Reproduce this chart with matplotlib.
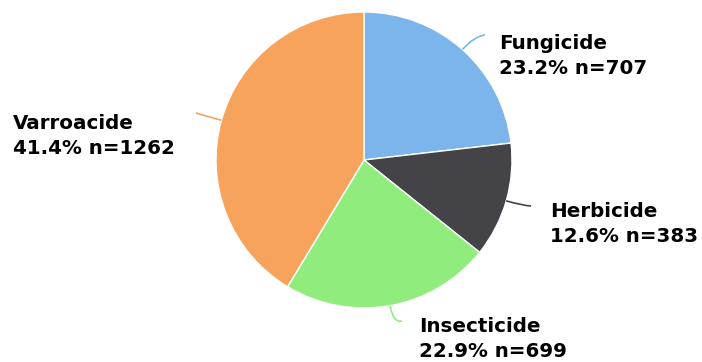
import numpy as np
import matplotlib.pyplot as plt
from matplotlib.path import Path
from matplotlib.patches import PathPatch

# Pesticide classes and sample counts
categories = ['Fungicide', 'Herbicide', 'Insecticide', 'Varroacide']
counts = [707, 383, 699, 1262]
colors = ['#7cb5ec', '#434348', '#90ed7d', '#f7a35c']

W, H = 702, 362
fig = plt.figure(figsize=(W / 100, H / 100), dpi=100)
ax = fig.add_axes([0, 0, 1, 1])

cx, cy, r = 364, H - 160, 148
wedges, _ = ax.pie(counts, colors=colors, startangle=90, counterclock=False,
                   center=(cx, cy), radius=r,
                   wedgeprops=dict(edgecolor='white', linewidth=1))

# pie() resets the limits, so set the pixel frame afterwards
ax.set_xlim(0, W)
ax.set_ylim(0, H)
ax.set_aspect('equal')
ax.axis('off')

total = sum(counts)
pcts = [100 * c / total for c in counts]

# label anchors (x, y from top) and connector end points
label_pos = [(499, 56), (550, 224), (419, 339), (13, 136)]
conn_end = [(485, 35), (531, 206), (402, 321), (196, 113)]

for w, name, n, p, col, (lx, ly), (ex, ey) in zip(
        wedges, categories, counts, pcts, colors, label_pos, conn_end):
    ang = np.deg2rad((w.theta1 + w.theta2) / 2)
    start = (cx + r * np.cos(ang), cy + r * np.sin(ang))
    ctrl = (cx + r * 1.12 * np.cos(ang), cy + r * 1.12 * np.sin(ang))
    end = (ex, H - ey)
    path = Path([start, ctrl, end], [Path.MOVETO, Path.CURVE3, Path.CURVE3])
    ax.add_patch(PathPatch(path, facecolor='none', edgecolor=col, lw=1.2))
    ax.text(lx, H - ly, f'{name}\n{p:.1f}% n={n}', ha='left', va='center',
            fontsize=14.3, fontweight='bold', color='black', linespacing=1.38)

fig.savefig('out.png', dpi=100)
